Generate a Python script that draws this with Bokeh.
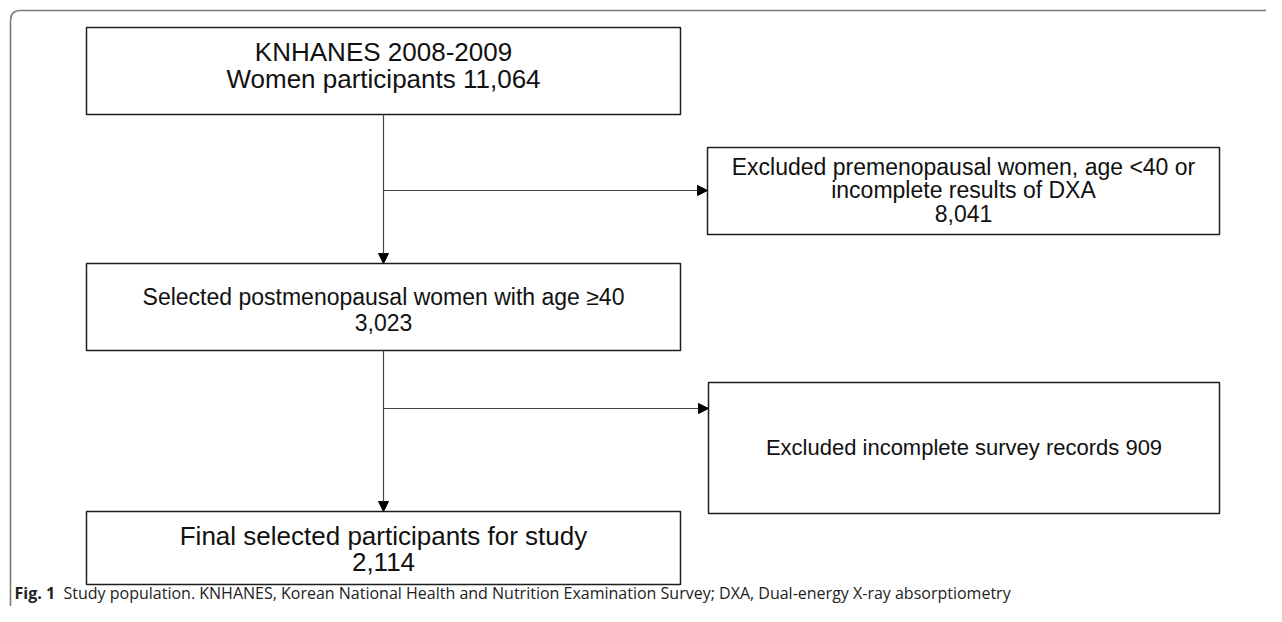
from bokeh.plotting import figure
from bokeh.models import Range1d, Arrow, NormalHead
from bokeh.core.properties import value
from bokeh.embed import file_html
from bokeh.resources import INLINE

# ---------------- data ----------------
stage_counts = [11064, 3023, 2114]
stage_templates = [
    ["KNHANES 2008-2009", "Women participants {n}"],
    ["Selected postmenopausal women with age \u226540", "{n}"],
    ["Final selected participants for study", "{n}"],
]
excl_counts = [8041, 909]
excl_templates = [
    ["Excluded premenopausal women, age <40 or", "incomplete results of DXA", "{n}"],
    ["Excluded incomplete survey records {n}"],
]
caption_bold = "Fig. 1"
caption_text = ("Study population. KNHANES, Korean National Health and Nutrition "
                "Examination Survey; DXA, Dual-energy X-ray absorptiometry")

# ---------------- layout (screen pixel coordinates) ----------------
W, H = 1266, 606
stage_box = [(86, 680, 27, 114), (86, 680, 263, 350), (86, 680, 511, 584)]
stage_first_line = [51, 296, 535]
stage_font = ["26px", "23px", "26px"]
stage_lh = [27, 26, 26]
excl_box = [(707, 1219, 147, 234), (708, 1219, 382, 513)]
excl_first_line = [166, 447]
excl_font = ["23px", "22px"]
excl_lh = [23.5, 23.5]
branch_y = [190, 408]
spine_x = 383

p = figure(width=W, height=H, output_backend="svg", toolbar_location=None,
           x_range=Range1d(0, W), y_range=Range1d(H, 0),
           min_border=0, outline_line_color=None)
p.xaxis.visible = False
p.yaxis.visible = False
p.xgrid.visible = False
p.ygrid.visible = False
p.background_fill_color = "white"
p.border_fill_color = "white"

# outer frame with rounded corner
fc = "#7a7a7a"
p.line([10, 10], [20, H], line_color=fc, line_width=1.6)
p.line([20, W], [10, 10], line_color=fc, line_width=1.6)
p.quadratic(x0=[10], y0=[20], x1=[20], y1=[10], cx=[10], cy=[10], line_color=fc, line_width=1.6)


def draw_box(b, lines, fs, y0, lh):
    l, r, t, bt = b
    p.quad(left=[l], right=[r], top=[t], bottom=[bt], fill_color="white",
           line_color="#1e1e1e", line_width=1.5)
    cx = (l + r) / 2
    n = len(lines)
    ys = [y0 + i * lh for i in range(n)]
    p.text(x=[cx] * n, y=ys, text=lines, text_align="center", text_baseline="middle",
           text_font=value("Liberation Sans"), text_font_size=fs, text_color="#111111")


for b, tmpl, n, fs, y0, lh in zip(stage_box, stage_templates, stage_counts,
                                  stage_font, stage_first_line, stage_lh):
    lines = [s.format(n=f"{n:,}") for s in tmpl]
    draw_box(b, lines, fs, y0, lh)

for b, tmpl, n, fs, y0, lh in zip(excl_box, excl_templates, excl_counts,
                                  excl_font, excl_first_line, excl_lh):
    lines = [s.format(n=f"{n:,}") for s in tmpl]
    draw_box(b, lines, fs, y0, lh)

lc = "#444444"
for i in range(2):
    top = stage_box[i][3]
    bot = stage_box[i + 1][2]
    p.add_layout(Arrow(end=NormalHead(size=10, fill_color="black", line_color="black"),
                       x_start=spine_x, y_start=top, x_end=spine_x, y_end=bot,
                       line_color=lc, line_width=1.2))
    p.add_layout(Arrow(end=NormalHead(size=10, fill_color="black", line_color="black"),
                       x_start=spine_x, y_start=branch_y[i], x_end=excl_box[i][0], y_end=branch_y[i],
                       line_color=lc, line_width=1.2))

# caption
p.text(x=[14], y=[603], text=[caption_bold], text_align="left", text_baseline="bottom",
       text_font=value("Open Sans"), text_font_style="bold", text_font_size="16px",
       text_color="#222222")
p.text(x=[63], y=[603], text=[caption_text], text_align="left", text_baseline="bottom",
       text_font=value("Open Sans"), text_font_size="16px", text_color="#222222")

open("out.html", "w").write(file_html(p, INLINE))
